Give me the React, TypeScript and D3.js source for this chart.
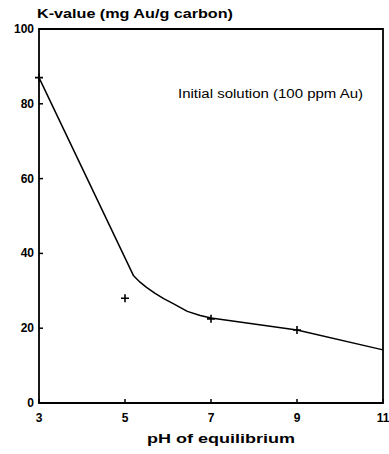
import React from 'react';
import * as d3 from 'd3';

// measured points (crosses)
const pointPH = [3, 5, 7, 9];
const pointK = [87, 28, 22.5, 19.5];

// fitted curve
const curvePH = [3, 5.2, 5.35, 5.5, 5.7, 5.9, 6.1, 6.45, 6.75, 7, 9, 11];
const curveK = [87, 34, 32.3, 30.9, 29.3, 27.9, 26.7, 24.5, 23.4, 22.7, 19.5, 14.2];

const xTicks = [3, 5, 7, 9, 11];
const yTicks = [0, 20, 40, 60, 80, 100];

const W = 389, H = 454;
const margin = { left: 39, right: 6, top: 29, bottom: 51 };

export default function App() {
  const x = d3.scaleLinear().domain([3, 11]).range([margin.left, W - margin.right]);
  const y = d3.scaleLinear().domain([0, 100]).range([H - margin.bottom, margin.top]);

  const line = d3.line<number>()
    .x((_, i) => x(curvePH[i]))
    .y(d => y(d))
    .curve(d3.curveLinear);

  const font = 'Arial, "Liberation Sans", sans-serif';
  const x0 = x(3), x1 = x(11), y0 = y(0), y1 = y(100);

  return (
    <svg width={W} height={H} style={{ position: 'absolute', left: 0, top: 0 }}
         fontFamily={font}>
      <rect width={W} height={H} fill="#fff" />
      {/* frame */}
      <path d={`M${x0},${y1}H${x1}V${y0}H${x0}Z`} fill="none" stroke="#000" strokeWidth={1.8} />
      {/* y ticks */}
      {yTicks.map(t => (
        <g key={'y' + t}>
          <line x1={x0} x2={x0 + 4} y1={y(t)} y2={y(t)} stroke="#000" strokeWidth={1.5} />
          <text x={x0 - 5} y={y(t) + 4} textAnchor="end" fontSize={12} fontWeight="bold">{t}</text>
        </g>
      ))}
      {/* x ticks */}
      {xTicks.map(t => (
        <g key={'x' + t}>
          <line x1={x(t)} x2={x(t)} y1={y0} y2={y0 - 4} stroke="#000" strokeWidth={1.5} />
          <text x={x(t)} y={y0 + 19} textAnchor="middle" fontSize={12} fontWeight="bold">{t}</text>
        </g>
      ))}
      {/* curve */}
      <path d={line(curveK) ?? ''} fill="none" stroke="#000" strokeWidth={1.5}
            strokeLinejoin="round" />
      {/* crosses */}
      {pointPH.map((p, i) => (
        <path key={'p' + i}
              d={`M${x(p) - 4},${y(pointK[i])}h8M${x(p)},${y(pointK[i]) - 4}v8`}
              stroke="#000" strokeWidth={1.6} />
      ))}
      {/* texts */}
      <text x={37} y={18} fontSize={13} fontWeight="bold" textLength={196}
            lengthAdjust="spacingAndGlyphs">K-value (mg Au/g carbon)</text>
      <text x={178} y={98} fontSize={12} textLength={185}
            lengthAdjust="spacingAndGlyphs">Initial solution (100 ppm Au)</text>
      <text x={147} y={443} fontSize={13} fontWeight="bold" textLength={148}
            lengthAdjust="spacingAndGlyphs">pH of equilibrium</text>
    </svg>
  );
}
